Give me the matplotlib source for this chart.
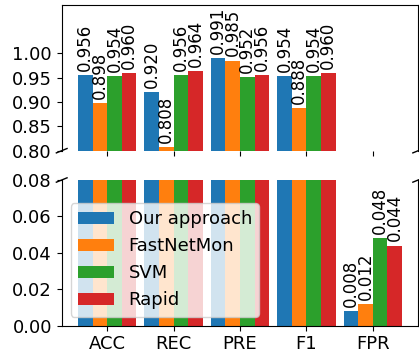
import numpy as np
import matplotlib
matplotlib.use("Agg")
import matplotlib.pyplot as plt

metrics = ["ACC", "REC", "PRE", "F1", "FPR"]
series_names = ["Our approach", "FastNetMon", "SVM", "Rapid"]
our_approach = [0.956, 0.920, 0.991, 0.954, 0.008]
fastnetmon = [0.898, 0.808, 0.985, 0.888, 0.012]
svm = [0.954, 0.956, 0.952, 0.954, 0.048]
rapid = [0.960, 0.964, 0.956, 0.960, 0.044]
top_ticks = [0.80, 0.85, 0.90, 0.95, 1.00]
bottom_ticks = [0.00, 0.02, 0.04, 0.06, 0.08]

plt.rcParams["font.size"] = 13
W, H = 419, 354
fig = plt.figure(figsize=(W / 100, H / 100), dpi=100)

left, right = 61.7 / W, 418.2 / W
ax_top = fig.add_axes([left, 1 - 150.7 / H, right - left, (150.7 - 4.7) / H])
ax_bot = fig.add_axes([left, 1 - 325.7 / H, right - left, (325.7 - 180.0) / H])

x = np.arange(len(metrics))
width = 0.22
all_series = [our_approach, fastnetmon, svm, rapid]

for ax in (ax_top, ax_bot):
    for i, (name, vals) in enumerate(zip(series_names, all_series)):
        pos = x + (i - 1.5) * width
        bars = ax.bar(pos, vals, width, label=name)
        for xp, v in zip(pos, vals):
            ax.annotate(f"{v:.3f}", xy=(xp, v), xytext=(0, 3),
                        textcoords="offset points", ha="center", va="bottom",
                        rotation=90, fontsize=12)

ax_top.set_ylim(0.80, 1.10)
ax_top.set_yticks(top_ticks)
ax_top.set_yticklabels([f"{t:.2f}" for t in top_ticks])
ax_bot.set_ylim(0.0, 0.08)
ax_bot.set_yticks(bottom_ticks)
ax_bot.set_yticklabels([f"{t:.2f}" for t in bottom_ticks])

ax_top.spines["bottom"].set_visible(False)
ax_bot.spines["top"].set_visible(False)
ax_top.set_xticks(x)
ax_top.tick_params(labelbottom=False)
ax_bot.set_xticks(x)
ax_bot.set_xticklabels(metrics)

# diagonal break marks
d = 0.015
kw = dict(transform=ax_top.transAxes, color="k", clip_on=False, lw=1)
ax_top.plot((-d, +d), (-d, +d), **kw)
ax_top.plot((1 - d, 1 + d), (-d, +d), **kw)
kw.update(transform=ax_bot.transAxes)
ax_bot.plot((-d, +d), (1 - d, 1 + d), **kw)
ax_bot.plot((1 - d, 1 + d), (1 - d, 1 + d), **kw)

ax_bot.legend(loc="lower left", fontsize=13)

fig.savefig("out.png", dpi=100)
